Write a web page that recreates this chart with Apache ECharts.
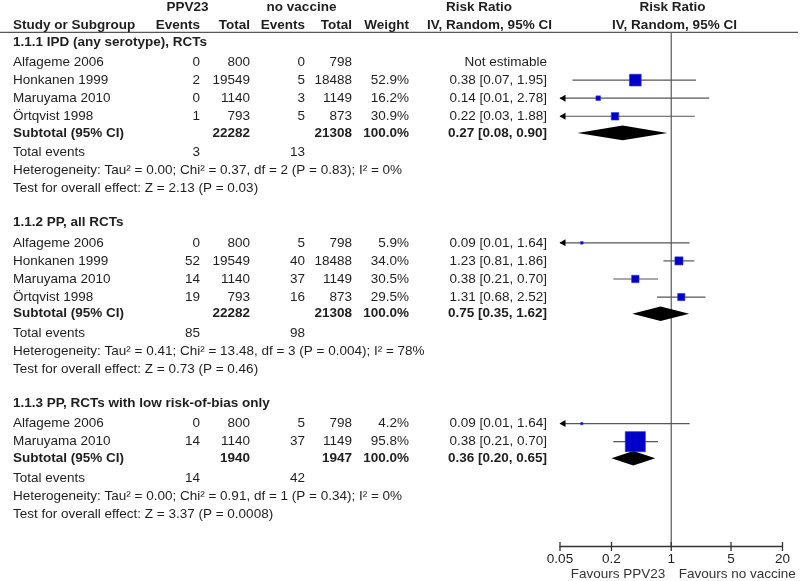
<!DOCTYPE html>
<html><head><meta charset="utf-8">
<script src="https://cdn.jsdelivr.net/npm/echarts@6/dist/echarts.min.js"></script>
<style>html,body{margin:0;padding:0;background:#fff}#c{width:800px;height:581px}</style>
</head><body><div id="c"></div>
<script>
// ---------------- DATA ----------------
const groupTitles = ['1.1.1 IPD (any serotype), RCTs', '1.1.2 PP, all RCTs', '1.1.3 PP, RCTs with low risk-of-bias only'];
const studyGroup = [0, 0, 0, 0, 1, 1, 1, 1, 2, 2];
const studyNames = ['Alfageme 2006', 'Honkanen 1999', 'Maruyama 2010', 'Örtqvist 1998',
                    'Alfageme 2006', 'Honkanen 1999', 'Maruyama 2010', 'Örtqvist 1998',
                    'Alfageme 2006', 'Maruyama 2010'];
const ppvEvents = [0, 2, 0, 1, 0, 52, 14, 19, 0, 14];
const ppvTotal  = [800, 19549, 1140, 793, 800, 19549, 1140, 793, 800, 1140];
const noEvents  = [0, 5, 3, 5, 5, 40, 37, 16, 5, 37];
const noTotal   = [798, 18488, 1149, 873, 798, 18488, 1149, 873, 798, 1149];
const weights   = [null, 52.9, 16.2, 30.9, 5.9, 34.0, 30.5, 29.5, 4.2, 95.8];
const rrPoint   = [null, 0.38, 0.14, 0.22, 0.09, 1.23, 0.38, 1.31, 0.09, 0.38];
const rrLow     = [null, 0.07, 0.01, 0.03, 0.01, 0.81, 0.21, 0.68, 0.01, 0.21];
const rrHigh    = [null, 1.95, 2.78, 1.88, 1.64, 1.86, 0.70, 2.52, 1.64, 0.70];

const subPpvTotal = [22282, 22282, 1940];
const subNoTotal  = [21308, 21308, 1947];
const subWeight   = [100.0, 100.0, 100.0];
const subRR       = [0.27, 0.75, 0.36];
const subLow      = [0.08, 0.35, 0.20];
const subHigh     = [0.90, 1.62, 0.65];
const totPpvEvents = [3, 85, 14];
const totNoEvents  = [13, 98, 42];
const heterogeneity = [
  'Heterogeneity: Tau² = 0.00; Chi² = 0.37, df = 2 (P = 0.83); I² = 0%',
  'Heterogeneity: Tau² = 0.41; Chi² = 13.48, df = 3 (P = 0.004); I² = 78%',
  'Heterogeneity: Tau² = 0.00; Chi² = 0.91, df = 1 (P = 0.34); I² = 0%'
];
const overallEffect = [
  'Test for overall effect: Z = 2.13 (P = 0.03)',
  'Test for overall effect: Z = 0.73 (P = 0.46)',
  'Test for overall effect: Z = 3.37 (P = 0.0008)'
];
const axisTicks = [0.05, 0.2, 1, 5, 20];
const axisTickLabels = ['0.05', '0.2', '1', '5', '20'];
const favoursLeft = 'Favours PPV23';
const favoursRight = 'Favours no vaccine';

// ---------------- LAYOUT ----------------
const X_MIN = 0.05, X_MAX = 20;
const Y_MAX = 29.77;
const HEADER_LINE_V = 1.355;
const COL = { name: 13, ppvE: 200, ppvT: 250, noE: 305, noT: 352, w: 409, rr: 547 };
const FONT = '"Liberation Sans", Arial, Helvetica, sans-serif';
const FS = 13.5;
const TXT = '#1e1e1e';

const fmtRR = (p, l, h) => p.toFixed(2) + ' [' + l.toFixed(2) + ', ' + h.toFixed(2) + ']';
const fmtW = w => w.toFixed(1) + '%';

const rows = [];
rows.push({ v: -0.02, cells: [
  { t: 'PPV23', x: 187.5, a: 'center', b: true },
  { t: 'no vaccine', x: 301.5, a: 'center', b: true },
  { t: 'Risk Ratio', x: 479, a: 'center', b: true },
  { t: 'Risk Ratio', x: 672.5, a: 'center', b: true }
]});
rows.push({ v: 0.98, cells: [
  { t: 'Study or Subgroup', x: COL.name, a: 'left', b: true },
  { t: 'Events', x: COL.ppvE, a: 'right', b: true },
  { t: 'Total', x: COL.ppvT, a: 'right', b: true },
  { t: 'Events', x: COL.noE, a: 'right', b: true },
  { t: 'Total', x: COL.noT, a: 'right', b: true },
  { t: 'Weight', x: COL.w, a: 'right', b: true },
  { t: 'IV, Random, 95% CI', x: 489.5, a: 'center', b: true },
  { t: 'IV, Random, 95% CI', x: 674.5, a: 'center', b: true }
]});

const ciData = [], squareData = [], diamondData = [];
let idx = 2;
for (let g = 0; g < groupTitles.length; g++) {
  rows.push({ v: idx - 0.12, cells: [{ t: groupTitles[g], x: COL.name, a: 'left', b: true }] });
  idx++;
  for (let i = 0; i < studyNames.length; i++) {
    if (studyGroup[i] !== g) continue;
    const cells = [
      { t: studyNames[i], x: COL.name, a: 'left' },
      { t: String(ppvEvents[i]), x: COL.ppvE, a: 'right' },
      { t: String(ppvTotal[i]), x: COL.ppvT, a: 'right' },
      { t: String(noEvents[i]), x: COL.noE, a: 'right' },
      { t: String(noTotal[i]), x: COL.noT, a: 'right' }
    ];
    if (weights[i] == null) {
      cells.push({ t: 'Not estimable', x: COL.rr, a: 'right' });
    } else {
      cells.push({ t: fmtW(weights[i]), x: COL.w, a: 'right' });
      cells.push({ t: fmtRR(rrPoint[i], rrLow[i], rrHigh[i]), x: COL.rr, a: 'right' });
      ciData.push([rrPoint[i], idx, rrLow[i], rrHigh[i]]);
      squareData.push([rrPoint[i], idx, weights[i]]);
    }
    rows.push({ v: idx, cells });
    idx++;
  }
  const sv = idx - 0.08;
  rows.push({ v: sv, cells: [
    { t: 'Subtotal (95% CI)', x: COL.name, a: 'left', b: true },
    { t: String(subPpvTotal[g]), x: COL.ppvT, a: 'right', b: true },
    { t: String(subNoTotal[g]), x: COL.noT, a: 'right', b: true },
    { t: fmtW(subWeight[g]), x: COL.w, a: 'right', b: true },
    { t: fmtRR(subRR[g], subLow[g], subHigh[g]), x: COL.rr, a: 'right', b: true }
  ]});
  diamondData.push([subRR[g], sv, subLow[g], subHigh[g]]);
  idx++;
  rows.push({ v: idx, cells: [
    { t: 'Total events', x: COL.name, a: 'left' },
    { t: String(totPpvEvents[g]), x: COL.ppvE, a: 'right' },
    { t: String(totNoEvents[g]), x: COL.noE, a: 'right' }
  ]});
  idx++;
  rows.push({ v: idx, cells: [{ t: heterogeneity[g], x: COL.name, a: 'left' }] });
  idx++;
  rows.push({ v: idx, cells: [{ t: overallEffect[g], x: COL.name, a: 'left' }] });
  idx += 2;
}

const tableData = rows.map((r, i) => [1, r.v, i]);

function textEl(x, y, t, align, bold) {
  return { type: 'text', x: x, y: y, style: {
    text: t, fill: TXT, fontFamily: FONT, fontSize: FS, fontWeight: bold ? 'bold' : 'normal',
    align: align, verticalAlign: 'middle' } };
}

const chart = echarts.init(document.getElementById('c'), null, { renderer: 'canvas' });
chart.setOption({
  animation: false,
  backgroundColor: '#fff',
  grid: { left: 560, right: 17.5, top: 7.8, bottom: 35, containLabel: false },
  xAxis: {
    type: 'log', logBase: 10, min: X_MIN, max: X_MAX, position: 'bottom',
    axisLine: { show: true, onZero: false, lineStyle: { color: '#333', width: 1.3 } },
    axisTick: { show: false }, axisLabel: { show: false }, splitLine: { show: false }
  },
  yAxis: { type: 'value', inverse: true, min: 0, max: Y_MAX, show: false, splitLine: { show: false } },
  series: [
    {
      type: 'custom', name: 'table', z: 5, clip: false, silent: true,
      data: tableData,
      renderItem: function (params, api) {
        const r = rows[api.value(2)];
        const y = api.coord([1, r.v])[1];
        return { type: 'group', children: r.cells.map(c => textEl(c.x, y, c.t, c.a, c.b)) };
      }
    },
    {
      type: 'custom', name: 'frame', z: 1, clip: false, silent: true,
      data: [[1, 0]],
      renderItem: function (params, api) {
        const hy = api.coord([1, HEADER_LINE_V])[1];
        const by = api.coord([1, Y_MAX])[1];
        const x1 = api.coord([1, Y_MAX])[0];
        const ch = [];
        ch.push({ type: 'line', shape: { x1: 0, y1: hy, x2: 798, y2: hy }, style: { stroke: '#555', lineWidth: 1.3 } });
        ch.push({ type: 'line', shape: { x1: x1, y1: hy, x2: x1, y2: by }, style: { stroke: '#666', lineWidth: 1.3 } });
        axisTicks.forEach((t, i) => {
          const tx = api.coord([t, Y_MAX])[0];
          ch.push({ type: 'line', shape: { x1: tx, y1: by - 4, x2: tx, y2: by + 5 }, style: { stroke: '#333', lineWidth: 1.3 } });
          ch.push(textEl(tx, by + 13, axisTickLabels[i], 'center', false));
        });
        const fl = textEl(x1 - 6, by + 28, favoursLeft, 'right', false);
        const fr = textEl(x1 + 7.5, by + 28, favoursRight, 'left', false);
        fl.style.fill = '#333'; fr.style.fill = '#333';
        ch.push(fl, fr);
        return { type: 'group', children: ch };
      }
    },
    {
      type: 'custom', name: 'ci', z: 2, clip: false, silent: true,
      data: ciData,
      renderItem: function (params, api) {
        const v = api.value(1), lo = api.value(2), hi = api.value(3);
        const y = api.coord([1, v])[1];
        const xl = api.coord([Math.max(lo, X_MIN), v])[0];
        const xh = api.coord([Math.min(hi, X_MAX), v])[0];
        const ch = [{ type: 'line', shape: { x1: xl, y1: y, x2: xh, y2: y }, style: { stroke: '#555', lineWidth: 1.2 } }];
        if (lo < X_MIN) {
          ch.push({ type: 'polygon', shape: { points: [[xl - 0.5, y], [xl + 5.5, y - 3.5], [xl + 5.5, y + 3.5]] }, style: { fill: '#000' } });
        }
        if (hi > X_MAX) {
          ch.push({ type: 'polygon', shape: { points: [[xh + 0.5, y], [xh - 5.5, y - 3.5], [xh - 5.5, y + 3.5]] }, style: { fill: '#000' } });
        }
        return { type: 'group', children: ch };
      }
    },
    {
      type: 'scatter', name: 'studies', z: 3, silent: true,
      symbol: 'rect',
      symbolSize: function (val) { return 0.195 * val[2] + 1.5; },
      itemStyle: { color: '#0000C8', borderColor: '#3a3ad8', borderWidth: 0.6, opacity: 1 },
      data: squareData
    },
    {
      type: 'custom', name: 'subtotals', z: 3, clip: false, silent: true,
      data: diamondData,
      renderItem: function (params, api) {
        const v = api.value(1);
        const c = api.coord([api.value(0), v]);
        const xl = api.coord([api.value(2), v])[0];
        const xh = api.coord([api.value(3), v])[0];
        return { type: 'polygon', shape: { points: [[xl, c[1]], [c[0], c[1] - 7.3], [xh, c[1]], [c[0], c[1] + 7.3]] }, style: { fill: '#000' } };
      }
    }
  ]
});
</script>
</body></html>
